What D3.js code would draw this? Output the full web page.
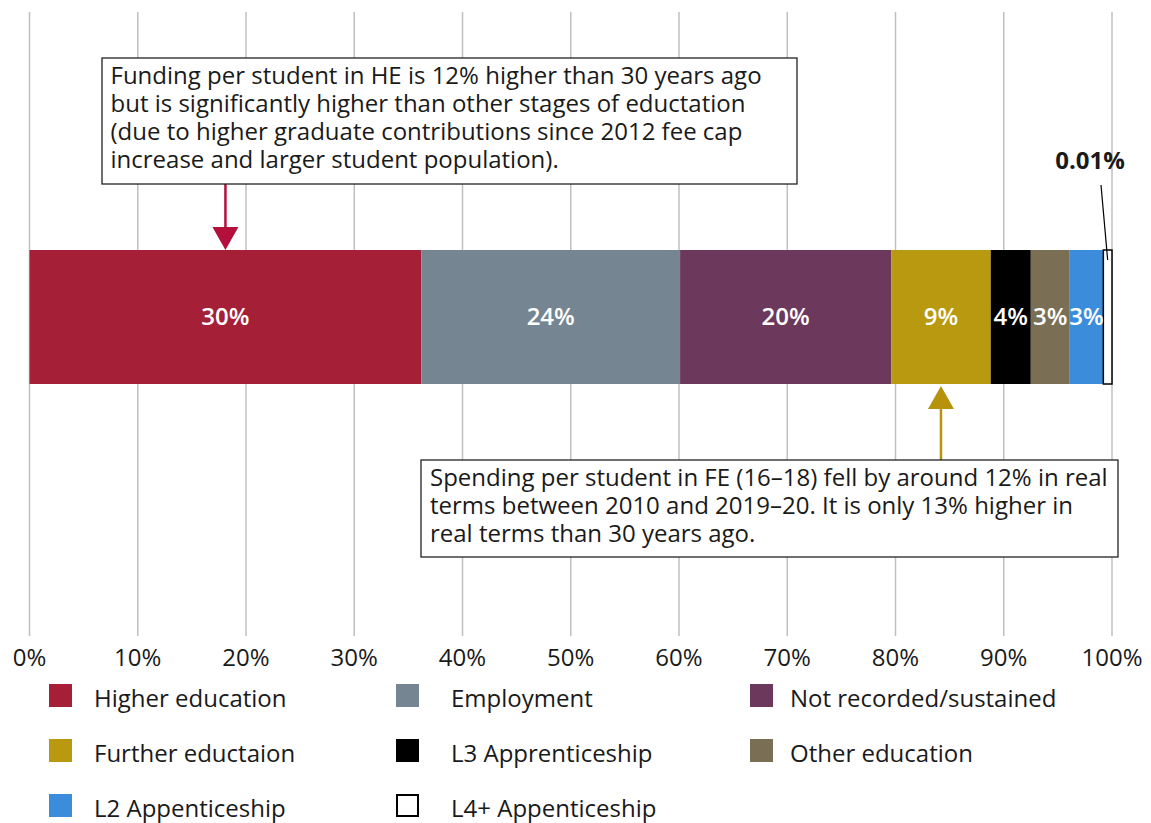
<!DOCTYPE html>
<html>
<head>
<meta charset="utf-8">
<script src="https://cdn.jsdelivr.net/npm/d3@7"></script>
<style>
  html, body { margin: 0; padding: 0; background: #fff; }
  svg { display: block; font-family: "Open Sans", "Noto Sans", sans-serif; }
</style>
</head>
<body>
<svg id="chart" width="1151" height="823"></svg>
<script>
// ---- data ----
const categories = ["Higher education", "Employment", "Not recorded/sustained", "Further eductaion",
  "L3 Apprenticeship", "Other education", "L2 Appenticeship", "L4+ Appenticeship"];
const values = [36.2, 23.9, 19.5, 9.2, 3.7, 3.6, 3.1, 0.8];
const valueLabels = ["30%", "24%", "20%", "9%", "4%", "3%", "3%", "0.01%"];
const colors = ["#a51f36", "#758592", "#6c385c", "#b8990f", "#000000", "#7a6f55", "#3b8ddb", "#ffffff"];
const tickValues = [0, 10, 20, 30, 40, 50, 60, 70, 80, 90, 100];
const tickLabels = ["0%", "10%", "20%", "30%", "40%", "50%", "60%", "70%", "80%", "90%", "100%"];
const heNote = ["Funding per student in HE is 12% higher than 30 years ago",
  "but is significantly higher than other stages of eductation",
  "(due to higher graduate contributions since 2012 fee cap",
  "increase and larger student population)."];
const feNote = ["Spending per student in FE (16\u201318) fell by around 12% in real",
  "terms between 2010 and 2019\u201320. It is only 13% higher in",
  "real terms than 30 years ago."];

// ---- layout ----
const svg = d3.select("#chart");
const FS = 24;
const x = d3.scaleLinear().domain([0, 100]).range([29.5, 1112]);
const y = d3.scaleBand().domain(["all"]).range([250, 384]).padding(0);
const gridTop = 12, gridBottom = 636;

// stacked data
let acc = 0;
const segs = categories.map((c, i) => {
  const s = { cat: c, start: acc, end: acc + values[i], label: valueLabels[i], color: colors[i], i };
  acc += values[i];
  return s;
});

// gridlines
svg.append("g").selectAll("line").data(tickValues).join("line")
  .attr("x1", d => x(d)).attr("x2", d => x(d))
  .attr("y1", gridTop).attr("y2", gridBottom)
  .attr("stroke", "#c0c0c0").attr("stroke-width", 1.5);

// tick labels
svg.append("g").selectAll("text").data(tickValues).join("text")
  .attr("x", d => x(d)).attr("y", 666)
  .attr("text-anchor", "middle").attr("font-size", FS).attr("fill", "#1a1a1a")
  .text((d, i) => tickLabels[i]);

// bars
svg.append("g").selectAll("rect").data(segs).join("rect")
  .attr("x", d => x(d.start)).attr("y", y("all"))
  .attr("width", d => x(d.end) - x(d.start)).attr("height", y.bandwidth())
  .attr("fill", d => d.color)
  .attr("stroke", d => d.i === segs.length - 1 ? "#000" : "none")
  .attr("stroke-width", 1.5);

// bar labels (all but last)
svg.append("g").selectAll("text").data(segs.slice(0, -1)).join("text")
  .attr("x", d => x((d.start + d.end) / 2)).attr("y", y("all") + y.bandwidth() / 2)
  .attr("dy", "0.35em").attr("text-anchor", "middle")
  .attr("font-size", FS).attr("font-weight", 600).attr("fill", "#fff")
  .text(d => d.label);

// small segment callout
const last = segs[segs.length - 1];
svg.append("text").attr("x", 1090).attr("y", 169)
  .attr("text-anchor", "middle").attr("font-size", FS).attr("font-weight", 700).attr("fill", "#1a1a1a")
  .text(last.label);
svg.append("line").attr("x1", 1101).attr("y1", 185).attr("x2", x((last.start + last.end) / 2)).attr("y2", 260)
  .attr("stroke", "#000").attr("stroke-width", 1.2);

// annotations
function note(lines, bx, by, bw, bh, tx, ty) {
  const g = svg.append("g");
  g.append("rect").attr("x", bx).attr("y", by).attr("width", bw).attr("height", bh)
    .attr("fill", "#fff").attr("stroke", "#222").attr("stroke-width", 1.3);
  g.selectAll("text").data(lines).join("text")
    .attr("x", tx).attr("y", (d, i) => ty + i * 28)
    .attr("font-size", FS).attr("fill", "#1a1a1a").text(d => d);
}
function arrow(xc, yFrom, yTip, color, down) {
  const head = 23, hw = 13;
  const g = svg.append("g");
  const yBase = down ? yTip - head : yTip + head;
  g.append("line").attr("x1", xc).attr("x2", xc).attr("y1", yFrom).attr("y2", yBase)
    .attr("stroke", color).attr("stroke-width", 2.5);
  g.append("path").attr("d", `M${xc - hw},${yBase}L${xc + hw},${yBase}L${xc},${yTip}Z`).attr("fill", color);
}
const heSeg = segs[0], feSeg = segs[3];
arrow(x((heSeg.start + heSeg.end) / 2), 184, y("all"), "#b3103b", true);
arrow(x((feSeg.start + feSeg.end) / 2), 460, y("all") + y.bandwidth() + 2, "#b7930d", false);
note(heNote, 102, 58, 695, 126, 110.5, 84);
note(feNote, 421, 460, 697, 97, 430, 486);

// legend
const legX = [49, 396, 750], legTX = [94, 451, 790];
const leg = svg.append("g").selectAll("g").data(segs).join("g")
  .attr("transform", d => `translate(0,${Math.floor(d.i / 3) * 55})`);
leg.append("rect")
  .attr("x", d => legX[d.i % 3] + (d.i === segs.length - 1 ? 1 : 0))
  .attr("y", d => 684 + (d.i === segs.length - 1 ? 1 : 0))
  .attr("width", d => d.i === segs.length - 1 ? 21 : 23)
  .attr("height", d => d.i === segs.length - 1 ? 21 : 23)
  .attr("fill", d => d.color)
  .attr("stroke", d => d.i === segs.length - 1 ? "#000" : "none").attr("stroke-width", 2);
leg.append("text").attr("x", d => legTX[d.i % 3]).attr("y", 707)
  .attr("font-size", FS).attr("fill", "#1a1a1a").text(d => d.cat);
</script>
</body>
</html>
